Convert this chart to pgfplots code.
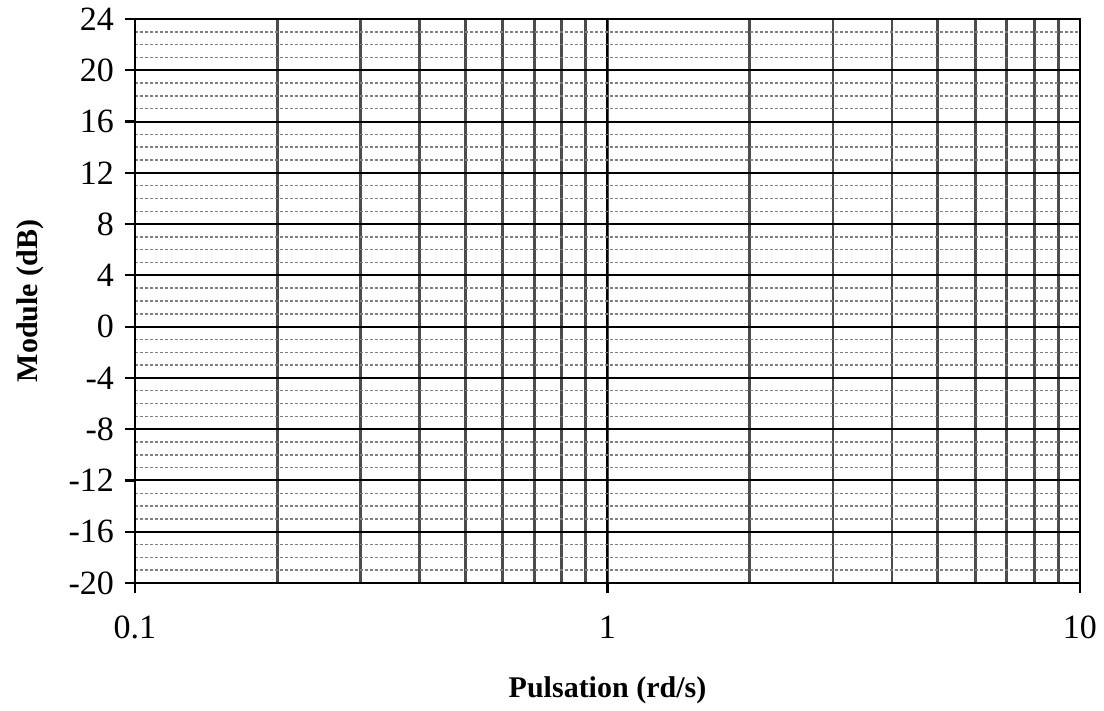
\documentclass[border=0pt]{standalone}
\usepackage{fontspec}
\setmainfont{Liberation Serif}
\usepackage{pgfplots}
\pgfplotsset{compat=1.18}
\begin{document}
\begin{tikzpicture}
\path[use as bounding box] (-67.5pt,-64pt) rectangle (484.5pt,291.5pt);
\begin{axis}[
  at={(0,0)}, anchor=south west,
  scale only axis, width=472.5pt, height=282pt,
  xmode=log, xmin=0.1, xmax=10, ymin=-20, ymax=24,
  xtick={0.1,1,10}, xticklabels={0.1,1,10},
  ytick={-20,-16,...,24},
  yticklabels={-20,-16,-12,-8,-4,0,4,8,12,16,20,24},
  minor ytick={-19,-18,-17,-15,-14,-13,-11,-10,-9,-7,-6,-5,-3,-2,-1,1,2,3,5,6,7,9,10,11,13,14,15,17,18,19,21,22,23},
  xtick pos=bottom, ytick pos=left,
  tick align=outside, major tick length=5pt, minor tick length=0pt,
  grid=both,
  major grid style={black, line width=1pt},
  minor x grid style={black!70, line width=1.4pt},
  minor y grid style={black!50, line width=0.75pt, dash pattern=on 1.5pt off 1pt},
  axis line style={black, line width=1.1pt},
  every tick/.style={black, line width=1.1pt},
  tick label style={font=\fontsize{17}{20}\selectfont},
  xticklabel style={yshift=-8pt},
  yticklabel style={xshift=-2pt},
  xlabel={Pulsation (rd/s)}, ylabel={Module (dB)},
  label style={font=\fontsize{15}{18}\selectfont\bfseries},
  xlabel style={at={(axis description cs:0.5,-0.19)}, anchor=center},
  ylabel style={at={(axis description cs:-0.111,0.5)}, anchor=center},
]
\addplot[draw=none, forget plot] coordinates {(0.1,0) (10,0)};
\end{axis}
\end{tikzpicture}
\end{document}
